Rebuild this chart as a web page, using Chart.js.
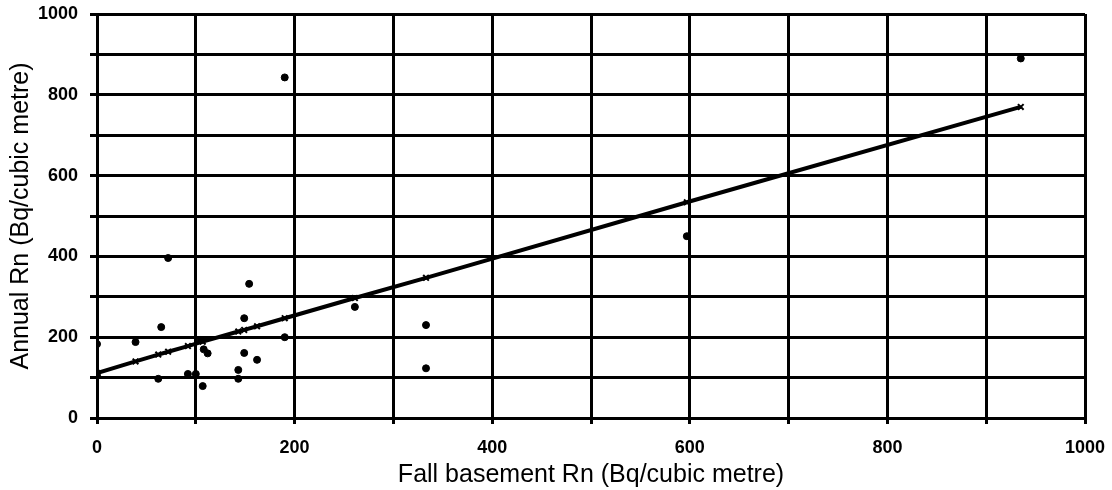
<!DOCTYPE html>
<html>
<head>
<meta charset="utf-8">
<script src="https://cdn.jsdelivr.net/npm/chart.js@4/dist/chart.umd.min.js"></script>
<style>
  html, body { margin: 0; padding: 0; background: #fff; }
</style>
</head>
<body>
<canvas id="radon" width="1112" height="490"></canvas>
<script>
// measured radon, Bq/cubic metre
var fallBasement = [0, 0, 39, 62, 65, 72, 92, 100, 105, 107, 108, 112, 143, 143, 149, 149, 154, 162, 190, 190, 261, 333, 333, 597, 935];
var annualRn     = [183, 105, 188, 97, 225, 396, 109, 109, 193, 79, 170, 160, 119, 97, 247, 161, 332, 144, 843, 200, 275, 230, 123, 450, 890];

// fitted line (x markers)
var fitX = [0, 39, 62, 72, 92, 107, 143, 149, 162, 190, 261, 333, 597, 935];
var fitY = [111, 140, 157, 164, 178, 189, 214, 218, 227, 247, 297, 347, 534, 770];

var xTicks = [0, 200, 400, 600, 800, 1000];
var yTicks = [0, 200, 400, 600, 800, 1000];

var xTitle = 'Fall basement Rn (Bq/cubic metre)';
var yTitle = 'Annual Rn (Bq/cubic metre)';

var observed = fallBasement.map(function (x, i) { return { x: x, y: annualRn[i] }; });
var fitted = fitX.map(function (x, i) { return { x: x, y: fitY[i] }; });

var tickFont = { family: 'Liberation Sans, Arial, sans-serif', size: 18, weight: 'bold' };
var titleFont = { family: 'Liberation Sans, Arial, sans-serif', size: 25, weight: 'normal' };

var ctx = document.getElementById('radon').getContext('2d');
var chart = new Chart(ctx, {
    type: 'scatter',
    data: {
        datasets: [
            {
                label: 'Annual Rn',
                data: observed,
                backgroundColor: '#000',
                borderColor: '#000',
                pointRadius: 3.5,
                pointHoverRadius: 3.5,
                showLine: false
            },
            {
                label: 'Fit',
                data: fitted,
                borderColor: '#000',
                backgroundColor: '#000',
                borderWidth: 4,
                showLine: true,
                pointStyle: 'crossRot',
                pointRadius: 4,
                pointBorderWidth: 2
            }
        ]
    },
    options: {
        responsive: false,
        animation: false,
        layout: { padding: { top: 14, right: 27, left: 0, bottom: 0 } },
        plugins: {
            legend: { display: false },
            tooltip: { enabled: false }
        },
        scales: {
            x: {
                type: 'linear',
                min: 0,
                max: 1000,
                border: { display: true, color: '#000', width: 3 },
                grid: { color: '#000', lineWidth: 3, tickLength: 6, tickColor: '#000', tickWidth: 3 },
                ticks: {
                    stepSize: 100,
                    color: '#000',
                    font: tickFont,
                    padding: 13,
                    maxRotation: 0,
                    autoSkip: false,
                    callback: function (v) { return xTicks.indexOf(v) >= 0 ? v : ''; }
                },
                title: { display: true, text: xTitle, color: '#000', font: titleFont, padding: { top: 0, bottom: 0 } },
                afterFit: function (s) {
                    s.height = 72;
                    s.paddingLeft = 0;
                    s.paddingRight = 0;
                }
            },
            y: {
                type: 'linear',
                min: 0,
                max: 1000,
                border: { display: true, color: '#000', width: 3 },
                grid: { color: '#000', lineWidth: 3, tickLength: 7, tickColor: '#000', tickWidth: 3 },
                ticks: {
                    stepSize: 100,
                    color: '#000',
                    font: tickFont,
                    padding: 12,
                    autoSkip: false,
                    callback: function (v) { return yTicks.indexOf(v) >= 0 ? v : ''; }
                },
                title: { display: true, text: yTitle, color: '#000', font: titleFont, padding: { top: 6, bottom: 0 } },
                afterFit: function (s) {
                    s.width = 97;
                    s.paddingTop = 0;
                    s.paddingBottom = 0;
                }
            }
        }
    }
});
</script>
</body>
</html>
